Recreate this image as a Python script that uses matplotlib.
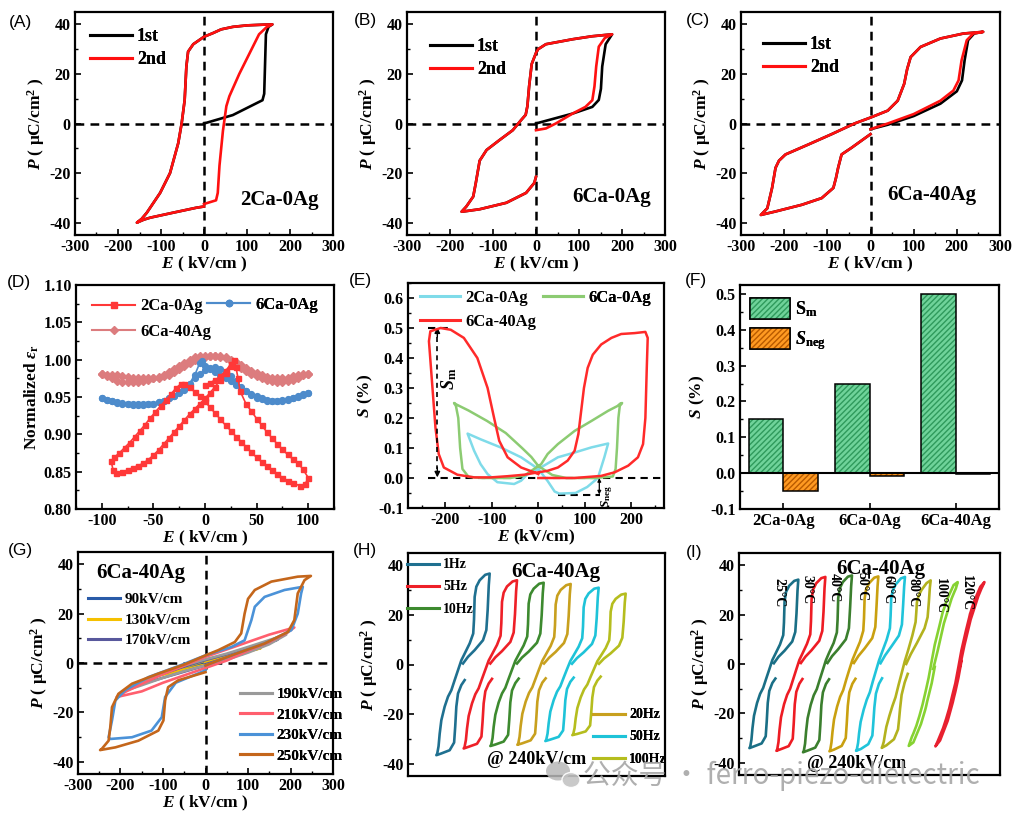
import matplotlib
matplotlib.use('Agg')
import matplotlib.pyplot as plt
from matplotlib.ticker import MultipleLocator, FormatStrFormatter, NullLocator
from matplotlib.patches import Patch, Ellipse
from matplotlib.lines import Line2D
from matplotlib.legend_handler import HandlerTuple

W, H = 1022, 819

# ======================= DATA =======================
# (A) 2Ca-0Ag  P-E loops
A_start1_E = [0, 67, 136, 140, 144, 150]
A_start1_P = [0, 3.4, 9.4, 12, 36, 39]
A_start2_E = [0, 28, 32, 36, 44, 52, 59, 82, 105, 128, 145]
A_start2_P = [-32.5, -31, -28, -17, -3, 7, 11, 20, 28, 36, 38.8]
A_loop_E = [159, 140, 100, 67, 40, 21, 0, -25, -37, -41, -45, -52, -60, -79, -102, -133, -145, -156, -140, -125, -72, -18, 0]
A_loop_P = [40, 39.9, 39.6, 39, 38, 36.5, 35, 32, 29, 23, 9.4, 0, -8, -20, -28, -36, -38.5, -40, -38.8, -38, -36, -34, -33.5]

# (B) 6Ca-0Ag
B_start1_E = [0, 85, 131, 146, 151, 154, 162]
B_start1_P = [0, 4, 6.7, 9.5, 14, 23, 32]
B_start2_E = [0, 23, 46, 85, 115, 131, 136, 140, 146, 160]
B_start2_P = [-2.7, -2, 0, 4, 6.7, 9.4, 15, 23, 31, 34.5]
B_loop_E = [177, 130, 85, 23, 5, 0, -10, -16, -20, -24, -35, -54, -85, -115, -131, -136, -140, -146, -162, -173, -160, -131, -69, -23, -4, 0]
B_loop_P = [36, 35.2, 34, 32, 30, 28.5, 24, 15, 7, 3.5, 1.3, -2.7, -6.7, -10.7, -15, -20, -24, -29.5, -33.5, -35.6, -35.3, -34.6, -32, -28, -24, -21.5]

# (C) 6Ca-40Ag
C_start1_E = [0, 40, 100, 162, 200, 212, 218, 226, 240]
C_start1_P = [-2.3, -0.5, 3, 8, 13, 17.4, 25.5, 33.6, 36.3]
C_start2_E = [0, 40, 100, 162, 192, 204, 211, 223, 238]
C_start2_P = [-2.3, 0, 3.8, 9.2, 13.3, 17.4, 25.5, 33.6, 36.3]
C_loop_E = [261, 215, 162, 116, 93, 85, 78, 63, 40, 0, -37, -90, -143, -197, -212, -220, -228, -239, -254, -220, -159, -113, -86, -80, -75, -67, -44, 0]
C_loop_P = [37, 36.3, 34.3, 30.9, 26.8, 22, 16, 9.2, 5.2, 2.4, 0, -4.3, -8.4, -12.5, -15, -17.9, -26, -34.2, -36.9, -35.5, -32.8, -30.1, -26, -22, -17.9, -12.5, -9.8, -4.3]

# (D) normalized permittivity
D_red_E = [0, 5, 10, 15, 20, 25, 28, 30, 32, 34, 40, 45, 50, 55, 60, 65, 70, 75, 80, 85, 90, 95, 100,
           97, 92, 85, 80, 75, 70, 65, 60, 55, 50, 45, 40, 35, 30, 25, 20, 15, 10, 5, 0, -5, -10, -15, -20, -23,
           -28, -33, -38, -43, -48, -53, -58, -63, -68, -73, -78, -83, -88, -91, -89, -86,
           -80, -75, -70, -65, -60, -55, -50, -45, -40, -35, -30, -25, -20, -15, -10, -5, 0, 5, 10, 15, 20, 25]
D_red_v = [0.966, 0.969, 0.973, 0.978, 0.985, 0.994, 0.999, 0.990, 0.975, 0.958, 0.940, 0.931, 0.921, 0.912, 0.903, 0.895, 0.887, 0.880, 0.873, 0.867, 0.862, 0.853, 0.842,
           0.833, 0.831, 0.835, 0.838, 0.842, 0.847, 0.852, 0.857, 0.863, 0.869, 0.876, 0.883, 0.890, 0.897, 0.905, 0.912, 0.920, 0.928, 0.936, 0.944, 0.951, 0.957, 0.963, 0.967, 0.968,
           0.962, 0.954, 0.946, 0.938, 0.930, 0.922, 0.913, 0.905, 0.897, 0.889, 0.882, 0.875, 0.869, 0.864, 0.852, 0.848,
           0.850, 0.852, 0.855, 0.858, 0.861, 0.866, 0.872, 0.879, 0.887, 0.895, 0.903, 0.911, 0.919, 0.927, 0.934, 0.941, 0.948, 0.956, 0.964, 0.973, 0.982, 0.992]
D_grid_up = [-100, -95, -90, -85, -80, -75, -70, -65, -60, -55, -50, -45, -40, -35, -30, -25, -20, -15, -10, -5, 0,
             5, 10, 15, 20, 25, 30, 35, 40, 45, 50, 55, 60, 65, 70, 75, 80, 85, 90, 95, 100]
D_grid_down = [100, 95, 90, 85, 80, 75, 70, 65, 60, 55, 50, 45, 40, 35, 30, 25, 20, 15, 10, 5, 0,
               -5, -10, -15, -20, -25, -30, -35, -40, -45, -50, -55, -60, -65, -70, -75, -80, -85, -90, -95, -100]
D_blue_up = [0.948, 0.946, 0.944, 0.942, 0.941, 0.940, 0.939, 0.939, 0.939, 0.940, 0.941, 0.943, 0.945, 0.948, 0.952, 0.957, 0.962, 0.968, 0.975, 0.981, 0.986,
             0.989, 0.990, 0.988, 0.984, 0.978, 0.971, 0.964, 0.958, 0.953, 0.949, 0.947, 0.945, 0.944, 0.944, 0.945, 0.946, 0.948, 0.950, 0.953, 0.956]
D_blue_down_E = [100, 95, 90, 85, 80, 75, 70, 65, 60, 55, 50, 45, 40, 35, 30, 25, 20, 15, 10, 5, 0, -3,
                 -5, -10, -15, -20, -25, -30, -35, -40, -45, -50, -55, -60, -65, -70, -75, -80, -85, -90, -95, -100]
D_blue_down = [0.956, 0.954, 0.951, 0.949, 0.947, 0.946, 0.945, 0.945, 0.946, 0.948, 0.951, 0.954, 0.958, 0.962, 0.966, 0.971, 0.975, 0.979, 0.983, 0.988, 0.992, 0.998,
               0.996, 0.979, 0.968, 0.960, 0.955, 0.951, 0.948, 0.945, 0.943, 0.941, 0.940, 0.940, 0.940, 0.940, 0.941, 0.942, 0.943, 0.945, 0.946, 0.948]
D_pink_up = [0.981, 0.978, 0.975, 0.972, 0.970, 0.970, 0.970, 0.970, 0.971, 0.973, 0.975, 0.977, 0.980, 0.984, 0.988, 0.992, 0.996, 1.000, 1.003, 1.005, 1.005,
             1.005, 1.005, 1.004, 1.002, 0.998, 0.994, 0.989, 0.985, 0.981, 0.978, 0.975, 0.973, 0.971, 0.970, 0.970, 0.971, 0.973, 0.976, 0.979, 0.981]
D_pink_down = [0.981, 0.981, 0.980, 0.978, 0.976, 0.975, 0.975, 0.975, 0.977, 0.979, 0.982, 0.985, 0.989, 0.993, 0.997, 1.000, 1.003, 1.005, 1.005, 1.005, 1.004,
               1.002, 0.999, 0.995, 0.991, 0.987, 0.983, 0.980, 0.978, 0.976, 0.975, 0.975, 0.975, 0.976, 0.976, 0.977, 0.978, 0.979, 0.980, 0.980, 0.981]

# (E) strain
E_red_E = [0, 78, 135, 164, 193, 214, 225, 230, 233, 235, 230, 207, 178, 157, 135, 117, 106, 98, 92, 86, 78, 63, 42, 20, 0,
           -30, -66, -102, -138, -174, -203, -214, -221, -228, -235, -232, -210, -188, -160, -131, -109, -95, -84, -66, -37, -9, 0]
E_red_S = [0, 0, 0.007, 0.019, 0.041, 0.069, 0.113, 0.2, 0.367, 0.467, 0.487, 0.483, 0.48, 0.467, 0.445, 0.411, 0.367, 0.3, 0.223, 0.146, 0.091, 0.058, 0.035, 0.024, 0.019,
           0.011, 0.006, 0.002, 0.002, 0.011, 0.035, 0.08, 0.168, 0.312, 0.456, 0.489, 0.5, 0.494, 0.467, 0.4, 0.3, 0.2, 0.124, 0.069, 0.035, 0.019, 0.013]
E_grn_E = [0, 30, 60, 120, 160, 166, 169, 172, 175, 180, 176, 170, 150, 114, 78, 42, 20, 6, 0,
           -30, -60, -120, -150, -163, -168, -172, -177, -181, -176, -150, -110, -70, -35, -15, 0]
E_grn_S = [0.04, 0.01, 0.0, 0.0, 0.005, 0.03, 0.1, 0.2, 0.24, 0.25, 0.248, 0.24, 0.224, 0.19, 0.157, 0.113, 0.08, 0.046, 0.04,
           0.008, 0.0, 0.0, 0.004, 0.03, 0.1, 0.2, 0.24, 0.25, 0.245, 0.225, 0.19, 0.15, 0.1, 0.07, 0.04]
E_cyn_E = [0, 20, 35, 45, 80, 105, 128, 142, 150, 114, 78, 42, 0, -23, -37, -52, -88, -109, -124, -138, -152, -124, -81, -37, 0]
E_cyn_S = [0.03, -0.01, -0.045, -0.052, -0.05, -0.03, 0.0, 0.07, 0.115, 0.102, 0.085, 0.069, 0.03, 0.013, -0.009, -0.02, -0.014, 0.013, 0.046, 0.091, 0.148, 0.129, 0.102, 0.069, 0.03]

# (F) bars
F_samples = ['2Ca-0Ag', '6Ca-0Ag', '6Ca-40Ag']
F_Sm = [0.15, 0.25, 0.50]
F_Sneg = [-0.05, -0.007, -0.002]

# (G) 6Ca-40Ag at different fields
G_labels = ['90kV/cm', '130kV/cm', '170kV/cm', '190kV/cm', '210kV/cm', '230kV/cm', '250kV/cm']
G90_E = [0, 45, 90, 45, 0, -45, -90, -45, 0]
G90_P = [0.3, 2.0, 3.8, 2.5, 0.8, -1.2, -3.4, -2.2, -0.4]
G130_E = [0, 65, 130, 65, 0, -65, -130, -65, 0]
G130_P = [0.2, 3.0, 6.0, 4.0, 1.0, -2.5, -5.8, -3.5, -0.6]
G170_E = [0, 85, 170, 120, 60, 0, -60, -120, -170, -120, -60, 0]
G170_P = [-0.5, 4.0, 9.5, 7.0, 4.0, 1.2, -2.0, -5.5, -9.3, -7.0, -4.0, -1.0]
G190_E = [0, 50, 100, 150, 190, 150, 100, 50, 0, -50, -100, -150, -190, -150, -100, -50, 0]
G190_P = [-1, 1.3, 4.2, 7.6, 11.5, 9.3, 6.5, 3.8, 1.5, -1, -4.2, -7.8, -11.3, -9, -6, -3.3, -1]
G210_E = [0, 50, 100, 150, 190, 209, 150, 100, 50, 0, -50, -100, -150, -190, -209, -150, -100, -50, 0]
G210_P = [-2, 1, 5, 8.5, 12, 14.4, 11.5, 8.5, 5.5, 2.5, -1, -4.5, -8.5, -11.8, -13.8, -11.5, -8, -5, -2]
G230_E = [0, 61, 139, 202, 217, 225, 229, 186, 139, 116, 108, 92, 61, 0, -60, -134, -189, -212, -220, -228, -224, -173, -127, -103, -95, -70, 0]
G230_P = [-1, 3.1, 7.9, 13.3, 20, 28.2, 30.9, 29.6, 26.8, 22.8, 17.4, 9.2, 6.5, 3.1, -1, -5.7, -11, -15.2, -23.3, -30.1, -30.8, -30.1, -27.4, -22, -13.8, -8, -3]
G250_E = [0, 61, 139, 194, 209, 217, 233, 248, 217, 155, 116, 100, 92, 84, 69, 30, 0, -48, -111, -173, -205, -220, -224, -228, -244, -248, -212, -158, -111, -99, -95, -88, -64, 0]
G250_P = [-1, 3.1, 7.9, 12.6, 17.4, 28.2, 33.6, 35.3, 35, 33, 29.6, 26, 20, 12, 8.5, 5.2, 3.1, -0.5, -4.3, -8.4, -12.5, -17.9, -26, -31.5, -34.8, -35.3, -34.2, -31.5, -27.4, -23.3, -15.2, -9.8, -7, -3.7]

# (H) frequency dependence, and (I) temperature dependence (E relative to each loop centre)
HI_E = [0, 45, 105, 180, 210, 222, 232, 240, 200, 150, 120, 105, 99, 92, 60, 15, -15, -45, -75, -105, -135, -165, -195,
        -210, -220, -232, -240, -195, -120, -80, -70, -60, -45, -15, 15]
H_labels = ['1Hz', '5Hz', '10Hz', '20Hz', '50Hz', '100Hz']
H_P_1Hz = [0.4, 3.1, 5.8, 9.8, 13.9, 22, 32, 36.7, 36.2, 34, 31.4, 27.3, 18, 12.5, 8.5, 4.4, 1.7, -2.3, -6.3, -10.4, -13, -17, -22.5, -28, -33, -36, -36.6, -35.9, -34.6, -31.5, -25, -17, -11.7, -8.3, -6.3]
H_P_5Hz = [0.4, 2.9, 5.4, 9.1, 12.9, 20.4, 29.6, 34.0, 33.5, 31.5, 29.0, 25.3, 16.7, 11.6, 7.9, 4.1, 1.6, -2.1, -5.8, -9.6, -12.0, -15.7, -20.8, -25.9, -30.5, -33.3, -33.9, -33.2, -32.0, -29.1, -23.1, -15.7, -10.8, -7.7, -5.8]
H_P_10Hz = [0.4, 2.8, 5.2, 8.8, 12.5, 19.8, 28.8, 33.0, 32.6, 30.6, 28.3, 24.6, 16.2, 11.3, 7.7, 4.0, 1.5, -2.1, -5.7, -9.4, -11.7, -15.3, -20.3, -25.2, -29.7, -32.4, -32.9, -32.3, -31.1, -28.4, -22.5, -15.3, -10.5, -7.5, -5.7]
H_P_20Hz = [0.4, 2.7, 5.1, 8.7, 12.3, 19.5, 28.3, 32.5, 32.0, 30.1, 27.8, 24.2, 15.9, 11.1, 7.5, 3.9, 1.5, -2.0, -5.6, -9.2, -11.5, -15.0, -19.9, -24.8, -29.2, -31.9, -32.4, -31.8, -30.6, -27.9, -22.1, -15.0, -10.4, -7.3, -5.6]
H_P_50Hz = [0.3, 2.6, 4.9, 8.3, 11.7, 18.6, 27.0, 31.0, 30.6, 28.7, 26.5, 23.1, 15.2, 10.6, 7.2, 3.7, 1.4, -1.9, -5.3, -8.8, -11.0, -14.4, -19.0, -23.7, -27.9, -30.4, -30.9, -30.3, -29.2, -26.6, -21.1, -14.4, -9.9, -7.0, -5.3]
H_P_100Hz = [0.3, 2.4, 4.5, 7.6, 10.8, 17.2, 25.0, 28.6, 28.2, 26.5, 24.5, 21.3, 14.0, 9.8, 6.6, 3.4, 1.3, -1.8, -4.9, -8.1, -10.1, -13.3, -17.6, -21.8, -25.7, -28.1, -28.5, -28.0, -27.0, -24.6, -19.5, -13.3, -9.1, -6.5, -4.9]

I_labels = ['25°C', '30°C', '40°C', '50°C', '60°C', '80°C', '100°C', '120°C']
I_P_25 = [0.3, 2.9, 5.4, 9.1, 13.0, 20.5, 29.8, 34.2, 33.7, 31.7, 29.3, 25.4, 16.8, 11.7, 7.9, 4.1, 1.6, -2.2, -5.9, -9.7, -12.1, -15.8, -21.0, -26.1, -30.7, -33.5, -34.1, -33.4, -32.2, -29.3, -23.3, -15.8, -10.9, -7.7, -5.9]
I_P_30 = [0.4, 3.0, 5.6, 9.4, 13.4, 21.2, 30.8, 35.3, 34.8, 32.7, 30.2, 26.3, 17.3, 12.0, 8.2, 4.2, 1.6, -2.2, -6.1, -10.0, -12.5, -16.3, -21.6, -26.9, -31.7, -34.6, -35.2, -34.5, -33.3, -30.3, -24.0, -16.3, -11.3, -8.0, -6.1]
I_P_40 = [0.4, 3.2, 6.0, 10.0, 14.5, 23.0, 31.5, 35.9, 35.4, 33.2, 30.6, 26.7, 18.0, 12.8, 8.5, 4.5, 1.6, -2.3, -6.2, -10.2, -12.7, -16.6, -22.0, -27.4, -32.3, -35.2, -35.8, -35.1, -33.9, -30.8, -24.5, -16.6, -11.5, -8.1, -6.2]
I_P_50 = [0.4, 3.3, 6.3, 10.5, 15.0, 23.5, 31.5, 35.5, 35.0, 32.8, 30.3, 26.5, 18.5, 13.5, 9.0, 4.6, 1.6, -2.3, -6.3, -10.6, -13.3, -17.3, -22.5, -27.5, -31.8, -34.8, -35.4, -34.7, -33.2, -30.0, -24.0, -17.0, -11.5, -8.0, -6.0]
I_P_60 = [0.3, 3.5, 7.0, 11.5, 16.0, 24.0, 31.5, 35.3, 34.7, 32.3, 29.8, 26.5, 19.5, 14.5, 9.8, 4.8, 1.4, -2.8, -7.0, -11.5, -14.5, -18.5, -23.5, -28.0, -32.0, -34.6, -35.2, -34.5, -32.5, -29.0, -23.5, -17.5, -12.0, -8.0, -5.8]
I_P_80 = [0.0, 4.0, 8.5, 14.5, 19.0, 25.0, 31.0, 33.9, 32.8, 30.0, 27.5, 25.0, 21.0, 17.0, 11.5, 5.0, 1.0, -3.8, -8.5, -13.5, -17.0, -21.0, -25.5, -29.0, -31.5, -33.2, -34.0, -33.0, -30.5, -26.5, -22.5, -18.0, -12.5, -7.5, -4.0]
I_P_100 = [-2.0, 5.6, 16.5, 26.5, 29.5, 30.6, 32.0, 33.2, 32.0, 27.5, 24.3, 22.3, 21.8, 20.8, 15.3, 7.8, 1.2, -5.6, -11.2, -16.5, -21.0, -25.0, -28.2, -29.6, -30.8, -32.2, -33.2, -31.8, -24.3, -18.8, -17.2, -15.3, -12.8, -7.8, -1.2]
I_P_120 = [-1.0, 7.8, 18.0, 27.5, 30.5, 31.5, 32.4, 33.2, 31.3, 26.5, 23.0, 21.0, 20.3, 19.0, 13.7, 5.6, -1.2, -7.8, -12.8, -18.0, -22.2, -26.0, -29.0, -30.5, -31.5, -32.6, -33.4, -31.0, -23.0, -17.0, -15.5, -13.7, -11.2, -5.6, 1.2]

# ======================= STYLE =======================
plt.rcParams.update({
    'font.family': ['Liberation Serif', 'DejaVu Serif'],
    'font.weight': 'bold',
    'axes.labelweight': 'bold',
    'mathtext.fontset': 'custom',
    'mathtext.rm': 'Liberation Serif:bold',
    'mathtext.it': 'Liberation Serif:italic:bold',
    'mathtext.bf': 'Liberation Serif:bold',
    'axes.unicode_minus': False,
    'axes.linewidth': 1.6,
    'xtick.direction': 'in', 'ytick.direction': 'in',
    'xtick.major.size': 4, 'ytick.major.size': 4,
    'xtick.minor.size': 2.5, 'ytick.minor.size': 2.5,
    'xtick.major.width': 1.2, 'ytick.major.width': 1.2,
    'xtick.minor.width': 1.0, 'ytick.minor.width': 1.0,
    'xtick.labelsize': 11.5, 'ytick.labelsize': 11.5,
    'xtick.major.pad': 3, 'ytick.major.pad': 3,
    'hatch.linewidth': 1.0,
})

fig = plt.figure(figsize=(W / 100, H / 100), dpi=100)


def axes_px(l, r, t, b):
    return fig.add_axes([l / W, 1 - b / H, (r - l) / W, (b - t) / H])


def frac(ax, px, py):
    bb = ax.get_position()
    return ((px / W - bb.x0) / bb.width, ((1 - py / H) - bb.y0) / bb.height)


def legend_px(ax, handles, labels, px, py, fs, hl, ls, **kw):
    x, y = frac(ax, px, py)
    leg = ax.legend(handles, labels, loc='center left', bbox_to_anchor=(x, y), borderaxespad=0,
                    borderpad=0, frameon=False, fontsize=fs, handlelength=hl, handletextpad=0.3,
                    labelspacing=ls, **kw)
    ax.add_artist(leg)
    return leg


def text_px(ax, px, py, s, **kw):
    x, y = frac(ax, px, py)
    ax.text(x, y, s, transform=ax.transAxes, ha='center', va='center', **kw)


P_LABEL = r'$\mathit{P}$ ( μC/cm$^\mathregular{2}$ )'
E_LABEL = r'$\mathit{E}$ ( kV/cm )'
DASH = (0, (3.5, 2.5))


def pe_axes(ax, xlabel=True):
    ax.set_xlim(-300, 300)
    ax.set_ylim(-45, 45)
    ax.xaxis.set_major_locator(MultipleLocator(100))
    ax.xaxis.set_minor_locator(MultipleLocator(50))
    ax.yaxis.set_major_locator(MultipleLocator(20))
    ax.yaxis.set_minor_locator(MultipleLocator(10))
    ax.set_ylabel(P_LABEL, fontsize=12.5, labelpad=2)
    if xlabel:
        ax.set_xlabel(E_LABEL, fontsize=12.5, labelpad=0)


def zero_lines(ax):
    ax.axhline(0, color='k', lw=1.8, ls=DASH, zorder=1)
    ax.axvline(0, color='k', lw=1.8, ls=DASH, zorder=1)


LW = 1.9
BLACK, RED = '#000000', '#ff1010'

# ---------------- (A) ----------------
axA = axes_px(75, 333, 12, 235)
pe_axes(axA)
zero_lines(axA)
axA.plot(A_start1_E + A_loop_E, A_start1_P + A_loop_P, color=BLACK, lw=LW, zorder=3)
axA.plot(A_start2_E + A_loop_E, A_start2_P + A_loop_P, color=RED, lw=LW, zorder=4)
hA = [Line2D([], [], color=BLACK, lw=2.2), Line2D([], [], color=RED, lw=2.2)]
legend_px(axA, hA, ['1st', '2nd'], 90, 48, 13, 2.3, 0.35)
text_px(axA, 279, 200, '2Ca-0Ag', fontsize=15)

# ---------------- (B) ----------------
axB = axes_px(407, 665, 12, 235)
pe_axes(axB)
zero_lines(axB)
axB.plot(B_start1_E + B_loop_E, B_start1_P + B_loop_P, color=BLACK, lw=LW, zorder=3)
axB.plot(B_start2_E + B_loop_E, B_start2_P + B_loop_P, color=RED, lw=LW, zorder=4)
legend_px(axB, hA, ['1st', '2nd'], 430, 58, 13, 2.3, 0.35)
text_px(axB, 612, 197, '6Ca-0Ag', fontsize=15)

# ---------------- (C) ----------------
axC = axes_px(741, 1000, 12, 235)
pe_axes(axC)
zero_lines(axC)
axC.plot(C_start1_E + C_loop_E, C_start1_P + C_loop_P, color=BLACK, lw=LW, zorder=3)
axC.plot(C_start2_E + C_loop_E, C_start2_P + C_loop_P, color=RED, lw=LW, zorder=4)
legend_px(axC, hA, ['1st', '2nd'], 763, 56, 13, 2.3, 0.35)
text_px(axC, 932, 195, '6Ca-40Ag', fontsize=15)

# ---------------- (D) ----------------
axD = axes_px(76, 334, 285, 509)
axD.set_xlim(-125, 125)
axD.set_ylim(0.80, 1.10)
axD.xaxis.set_major_locator(MultipleLocator(50))
axD.xaxis.set_minor_locator(MultipleLocator(25))
axD.yaxis.set_major_locator(MultipleLocator(0.05))
axD.yaxis.set_minor_locator(MultipleLocator(0.025))
axD.yaxis.set_major_formatter(FormatStrFormatter('%.2f'))
axD.set_xlabel(E_LABEL, fontsize=12.5, labelpad=0)
axD.set_ylabel(r'Normalized $\varepsilon_\mathregular{r}$', fontsize=12.5, labelpad=2)
C_D_RED, C_D_BLUE, C_D_PINK = '#ff3838', '#4d8bcb', '#dc7c7e'
axD.plot(D_grid_up, D_pink_up, color=C_D_PINK, lw=1.2, marker='D', ms=3.6, zorder=2)
axD.plot(D_grid_down, D_pink_down, color=C_D_PINK, lw=1.2, marker='D', ms=3.6, zorder=2)
axD.plot(D_grid_up, D_blue_up, color=C_D_BLUE, lw=1.2, marker='o', ms=4.2, zorder=3)
axD.plot(D_blue_down_E, D_blue_down, color=C_D_BLUE, lw=1.2, marker='o', ms=4.2, zorder=3)
axD.plot(D_red_E, D_red_v, color=C_D_RED, lw=1.2, marker='s', ms=3.6, zorder=4)
hD1 = [Line2D([], [], color=C_D_RED, lw=1.5, marker='s', ms=4),
       Line2D([], [], color=C_D_PINK, lw=1.5, marker='D', ms=4)]
legend_px(axD, hD1, ['2Ca-0Ag', '6Ca-40Ag'], 92, 319, 12, 2.6, 0.55)
hD2 = [Line2D([], [], color=C_D_BLUE, lw=1.5, marker='o', ms=4.5)]
legend_px(axD, hD2, ['6Ca-0Ag'], 207, 305, 12, 2.6, 0.55)

# ---------------- (E) ----------------
axE = axes_px(408, 664, 283, 508)
axE.set_xlim(-280, 270)
axE.set_ylim(-0.1, 0.65)
axE.xaxis.set_major_locator(MultipleLocator(100))
axE.xaxis.set_minor_locator(MultipleLocator(50))
axE.yaxis.set_major_locator(MultipleLocator(0.1))
axE.yaxis.set_minor_locator(MultipleLocator(0.05))
axE.yaxis.set_major_formatter(FormatStrFormatter('%.1f'))
axE.set_xlabel(r'$\mathit{E}$ (kV/cm)', fontsize=12.5, labelpad=0)
axE.set_ylabel(r'$\mathit{S}$ (%)', fontsize=12.5, labelpad=2)
C_E_CYN, C_E_GRN, C_E_RED = '#7fdbe9', '#8ccb72', '#ff2a2a'
axE.plot(E_cyn_E, E_cyn_S, color=C_E_CYN, lw=1.8, zorder=3)
axE.plot(E_grn_E, E_grn_S, color=C_E_GRN, lw=1.8, zorder=3)
axE.plot(E_red_E, E_red_S, color=C_E_RED, lw=1.8, zorder=4)
axE.plot([-238, 270], [0, 0], color='k', lw=1.5, ls=DASH, zorder=2)
axE.plot([-238, -188], [0.5, 0.5], color='k', lw=1.5, ls=DASH, zorder=2)
axE.plot([-217, -217], [0.47, 0.03], color='k', lw=1.2, ls=(0, (3, 2.5)), zorder=5)
axE.annotate('', xy=(-217, 0.502), xytext=(-217, 0.47),
             arrowprops=dict(arrowstyle='-|>', color='k', lw=1.0, mutation_scale=8, shrinkA=0, shrinkB=0))
axE.annotate('', xy=(-217, 0.002), xytext=(-217, 0.035),
             arrowprops=dict(arrowstyle='-|>', color='k', lw=1.0, mutation_scale=8, shrinkA=0, shrinkB=0))
axE.text(-192, 0.33, r'$\mathit{S}_\mathregular{m}$', rotation=90, fontsize=13, ha='center', va='center')
axE.plot([42, 132], [-0.055, -0.055], color='k', lw=1.5, ls=DASH, zorder=2)
axE.annotate('', xy=(131, -0.055), xytext=(131, 0.0),
             arrowprops=dict(arrowstyle='<|-|>', color='k', lw=0.9, mutation_scale=5, shrinkA=0, shrinkB=0))
axE.text(148, -0.062, r'$\mathit{S}_\mathregular{neg}$', rotation=90, fontsize=9.5, ha='center', va='center')
hE1 = [Line2D([], [], color=C_E_CYN, lw=2.2), Line2D([], [], color=C_E_RED, lw=2.2)]
legend_px(axE, hE1, ['2Ca-0Ag', '6Ca-40Ag'], 420, 310, 12, 2.4, 0.45)
hE2 = [Line2D([], [], color=C_E_GRN, lw=2.2)]
legend_px(axE, hE2, ['6Ca-0Ag'], 543, 298, 12, 2.4, 0.45)

# ---------------- (F) ----------------
axF = axes_px(740, 999, 285, 509)
axF.set_xlim(-0.5, 2.5)
axF.set_ylim(-0.1, 0.525)
axF.yaxis.set_major_locator(MultipleLocator(0.1))
axF.yaxis.set_minor_locator(MultipleLocator(0.05))
axF.yaxis.set_major_formatter(FormatStrFormatter('%.1f'))
axF.set_xticks(range(len(F_samples)))
axF.set_xticklabels(F_samples, fontsize=12)
axF.set_ylabel(r'$\mathit{S}$ (%)', fontsize=12.5, labelpad=2)
G_FACE, G_HATCH = '#6fd39a', '#2f9a5c'
O_FACE, O_HATCH = '#ff9a22', '#b85a00'
xs = list(range(len(F_samples)))
xg = [x - 0.2 for x in xs]
xo = [x + 0.2 for x in xs]
axF.bar(xg, F_Sm, width=0.4, color=G_FACE, edgecolor=G_HATCH, hatch='//////', linewidth=0, zorder=2)
axF.bar(xg, F_Sm, width=0.4, fill=False, edgecolor='k', linewidth=1.1, zorder=3)
axF.bar(xo, F_Sneg, width=0.4, color=O_FACE, edgecolor=O_HATCH, hatch='//////', linewidth=0, zorder=2)
axF.bar(xo, F_Sneg, width=0.4, fill=False, edgecolor='k', linewidth=1.1, zorder=3)
axF.axhline(0, color='k', lw=1.5, zorder=4)
hF = [(Patch(facecolor=G_FACE, edgecolor=G_HATCH, hatch='//////', linewidth=0),
       Patch(fill=False, edgecolor='k', linewidth=1.1)),
      (Patch(facecolor=O_FACE, edgecolor=O_HATCH, hatch='//////', linewidth=0),
       Patch(fill=False, edgecolor='k', linewidth=1.1))]
legend_px(axF, hF, [r'S$_\mathregular{m}$', r'$\mathit{S}_\mathregular{neg}$'], 750, 325, 13, 2.2, 0.5,
          handleheight=1.4, handler_map={tuple: HandlerTuple(ndivide=1, pad=0)})

# ---------------- (G) ----------------
axG = axes_px(78, 333, 552, 774)
pe_axes(axG)
zero_lines(axG)
G_colors = ['#2a5ba8', '#f5c000', '#58589c', '#9a9a9a', '#ff5f6e', '#4b92d8', '#c4661b']
G_data = [(G90_E, G90_P), (G130_E, G130_P), (G170_E, G170_P), (G190_E, G190_P),
          (G210_E, G210_P), (G230_E, G230_P), (G250_E, G250_P)]
for (ge, gp), col in zip(G_data, G_colors):
    axG.plot(ge, gp, color=col, lw=LW, zorder=3)
hG = [Line2D([], [], color=c, lw=2.2) for c in G_colors]
legend_px(axG, hG[:3], G_labels[:3], 88, 620, 11, 2.1, 0.45)
legend_px(axG, hG[3:], G_labels[3:], 240, 725, 11, 2.1, 0.45)
text_px(axG, 141, 573, '6Ca-40Ag', fontsize=15)

# ---------------- (H) ----------------
axH = axes_px(408, 665, 553, 776)
axH.set_xlim(-495, 1818)
axH.set_ylim(-45, 45)
axH.xaxis.set_major_locator(NullLocator())
axH.yaxis.set_major_locator(MultipleLocator(20))
axH.yaxis.set_minor_locator(MultipleLocator(10))
axH.set_ylabel(P_LABEL, fontsize=12.5, labelpad=2)
H_offsets = [0, 246, 486, 729, 981, 1224]
H_colors = ['#1f7090', '#ee2028', '#3d8a2f', '#c8a01e', '#1ec3d8', '#b5bd1e']
H_P = [H_P_1Hz, H_P_5Hz, H_P_10Hz, H_P_20Hz, H_P_50Hz, H_P_100Hz]
for off, pp, col in zip(H_offsets, H_P, H_colors):
    axH.plot([off + e for e in HI_E], pp, color=col, lw=1.9, zorder=3)
hH = [Line2D([], [], color=c, lw=2.2) for c in H_colors]
legend_px(axH, hH[:3], H_labels[:3], 407, 587, 10, 2.3, 0.65)
legend_px(axH, hH[3:], H_labels[3:], 593, 737, 10, 2.3, 0.65)
text_px(axH, 556, 572, '6Ca-40Ag', fontsize=15)
text_px(axH, 537, 760, '@ 240kV/cm', fontsize=13)

# ---------------- (I) ----------------
axI = axes_px(739, 1000, 553, 775)
axI.set_xlim(-342, 2218)
axI.set_ylim(-45, 45)
axI.xaxis.set_major_locator(NullLocator())
axI.yaxis.set_major_locator(MultipleLocator(20))
axI.yaxis.set_minor_locator(MultipleLocator(10))
axI.set_ylabel(P_LABEL, fontsize=12.5, labelpad=2)
I_offsets = [0, 265, 526, 785, 1046, 1298, 1563, 1825]
I_colors = ['#1a6f86', '#ee1c24', '#3b7f2e', '#c9a010', '#20c4da', '#b3b21e', '#86d232', '#e8202f']
I_P = [I_P_25, I_P_30, I_P_40, I_P_50, I_P_60, I_P_80, I_P_100, I_P_120]
I_lab_px = [(779, 593), (807, 590), (834, 588), (862, 587), (888, 590), (913, 593), (940, 596), (966, 593)]
for off, pp, col in zip(I_offsets, I_P, I_colors):
    axI.plot([off + e for e in HI_E], pp, color=col, lw=1.9, zorder=3)
for (lx, ly), lab in zip(I_lab_px, I_labels):
    text_px(axI, lx, ly, lab, fontsize=10, rotation=-90)
text_px(axI, 881, 569, '6Ca-40Ag', fontsize=15)
text_px(axI, 857, 763, '@ 240kV/cm', fontsize=13)

# ---------------- panel letters ----------------
letters = [('(A)', 21, 22), ('(B)', 365, 20), ('(C)', 698, 20), ('(D)', 19, 283), ('(E)', 360, 281),
           ('(F)', 696, 281), ('(G)', 20, 550), ('(H)', 365, 551), ('(I)', 694, 552)]
for s, x, y in letters:
    fig.text(x / W, 1 - y / H, s, fontsize=12.5, family='Liberation Sans', weight='normal',
             ha='center', va='center')

# ---------------- watermark ----------------
fig.patches.append(Ellipse((558 / W, 1 - 771 / H), 24 / W, 19 / H, transform=fig.transFigure,
                           facecolor='#b8b8b8', edgecolor='none', alpha=0.85, zorder=90))
fig.patches.append(Ellipse((571 / W, 1 - 780 / H), 18 / W, 15 / H, transform=fig.transFigure,
                           facecolor='#c4c4c4', edgecolor='white', linewidth=1, alpha=0.9, zorder=91))
fig.text(583 / W, 1 - 776 / H, '公众号 · ferro-piezo-dielectric', fontsize=20, color='#a6a6a6',
         family=['Noto Sans CJK SC', 'DejaVu Sans'], weight='normal', ha='left', va='center',
         alpha=0.9, zorder=100)

fig.savefig('out.png', dpi=100)
